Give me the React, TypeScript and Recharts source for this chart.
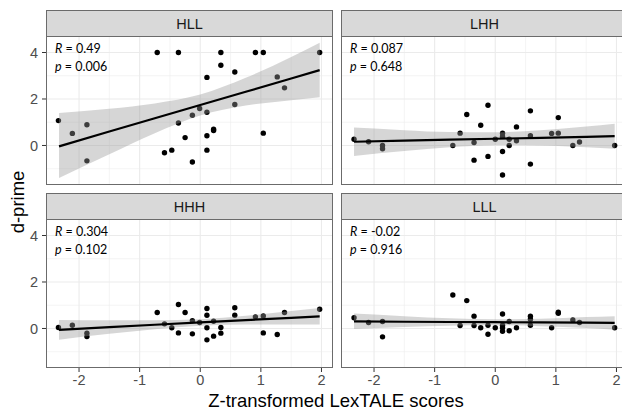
import { Area, CartesianGrid, ComposedChart, Line, Scatter, XAxis, YAxis } from 'recharts'

// x positions where the fit line and its confidence band were read
const BAND_X = [-2.33, -1.5, -0.75, 0, 0.75, 1.5, 1.97]

const HLL_X = [-0.71, -0.36, 0.34, 0.91, 1.04, 1.97, 0.34, 0.57, 0.11, 1.27, 1.39, 0.57, -0.01, 0.11, -0.13, -0.36, -2.34, -2.11, -1.87, -1.87, -0.25, 0.11, 0.22, 0.22, 1.04, -0.59, -0.47, 0.11, -0.13]
const HLL_Y = [4.0, 4.0, 4.0, 4.0, 4.0, 4.0, 3.45, 3.16, 2.93, 2.95, 2.48, 1.76, 1.59, 1.43, 1.3, 0.97, 1.07, 0.52, 0.89, -0.66, 0.34, 0.42, 0.64, 0.7, 0.53, -0.31, -0.2, -0.2, -0.71]
const HLL_FIT = [-0.04, 0.6, 1.17, 1.74, 2.31, 2.88, 3.24]
const HLL_LO = [-1.4, -0.38, 0.53, 1.29, 1.72, 1.95, 2.08]
const HLL_HI = [1.4, 1.58, 1.81, 2.19, 2.91, 3.81, 4.42]

const LHH_X = [-2.33, -2.09, -1.86, -1.86, -0.7, -0.58, -0.47, -0.35, -0.35, -0.24, -0.12, -0.12, 0.0, 0.12, 0.12, 0.12, 0.12, 0.23, 0.23, 0.35, 0.35, 0.58, 0.58, 0.58, 0.93, 1.04, 1.04, 1.28, 1.39, 1.97]
const LHH_Y = [0.27, 0.16, 0.0, -0.14, 0.0, 0.53, 1.33, 0.13, -0.63, 0.87, 1.73, -0.47, 0.27, 0.53, 0.39, -0.26, -1.27, 0.27, 0.0, 0.8, 0.2, 1.49, 0.42, -0.8, 0.52, 1.2, 0.53, 0.0, 0.15, 0.0]
const LHH_FIT = [0.16, 0.21, 0.25, 0.29, 0.33, 0.37, 0.4]
const LHH_LO = [-0.45, -0.24, -0.08, 0.01, 0.0, -0.08, -0.14]
const LHH_HI = [0.77, 0.66, 0.58, 0.57, 0.66, 0.82, 0.94]

const HHH_X = [-2.34, -2.11, -1.87, -1.87, -0.71, -0.59, -0.47, -0.36, -0.36, -0.25, -0.13, -0.13, -0.01, 0.11, 0.11, 0.11, 0.11, 0.22, 0.22, 0.34, 0.34, 0.57, 0.57, 0.91, 1.04, 1.04, 1.27, 1.39, 1.97]
const HHH_Y = [0.04, 0.14, -0.2, -0.35, 0.69, 0.2, 0.03, 1.03, -0.19, 0.69, 0.34, -0.23, 0.26, 0.86, 0.57, 0.03, -0.49, 0.31, -0.33, 0.04, -0.2, 0.89, 0.57, 0.5, 0.54, -0.19, -0.26, 0.69, 0.83]
const HHH_FIT = [-0.06, 0.06, 0.16, 0.26, 0.36, 0.46, 0.52]
const HHH_LO = [-0.48, -0.23, -0.03, 0.12, 0.17, 0.17, 0.17]
const HHH_HI = [0.36, 0.35, 0.35, 0.4, 0.55, 0.75, 0.88]

const LLL_X = [-2.33, -2.09, -1.86, -1.86, -0.7, -0.58, -0.47, -0.35, -0.35, -0.24, -0.12, -0.12, 0.0, 0.12, 0.12, 0.12, 0.12, 0.23, 0.23, 0.35, 0.58, 0.58, 0.58, 0.93, 1.04, 1.04, 1.28, 1.39, 1.97]
const LLL_Y = [0.46, 0.26, 0.3, -0.36, 1.44, 0.13, 1.2, 0.53, 0.13, 0.03, 0.14, -0.25, 0.03, 0.62, 0.14, 0.03, -0.12, 0.3, -0.1, 0.03, 0.53, 0.4, 0.14, 0.03, 0.7, 0.65, 0.37, 0.26, 0.03]
const LLL_FIT = [0.31, 0.29, 0.28, 0.27, 0.26, 0.25, 0.24]
const LLL_LO = [-0.02, 0.06, 0.12, 0.14, 0.1, 0.02, -0.05]
const LLL_HI = [0.64, 0.53, 0.44, 0.4, 0.42, 0.49, 0.53]

const X_TICKS = [-2, -1, 0, 1, 2]
const X_MINOR = [-1.5, -0.5, 0.5, 1.5]
const Y_TICKS = [0, 2, 4]
const Y_MINOR = [-1, 1, 3]

const X_DOMAIN: [number, number] = [-2.545, 2.19]
const Y_DOMAIN: [number, number] = [-1.7, 4.71]

const PANEL_W = 287
const PANEL_H = 149
const STRIP_H = 26
const AXIS_W = 46
const GAP = 8
const X_AXIS_H = 32

const SANS = '"Liberation Sans", Arial, sans-serif'
const BORDER = '#6b6b6b'

type PanelDef = {
  title: string
  r: string
  p: string
  xs: number[]
  ys: number[]
  fit: number[]
  lo: number[]
  hi: number[]
}

const PANELS: PanelDef[] = [
  { title: 'HLL', r: '0.49', p: '0.006', xs: HLL_X, ys: HLL_Y, fit: HLL_FIT, lo: HLL_LO, hi: HLL_HI },
  { title: 'LHH', r: '0.087', p: '0.648', xs: LHH_X, ys: LHH_Y, fit: LHH_FIT, lo: LHH_LO, hi: LHH_HI },
  { title: 'HHH', r: '0.304', p: '0.102', xs: HHH_X, ys: HHH_Y, fit: HHH_FIT, lo: HHH_LO, hi: HHH_HI },
  { title: 'LLL', r: '-0.02', p: '0.916', xs: LLL_X, ys: LLL_Y, fit: LLL_FIT, lo: LLL_LO, hi: LLL_HI }
]

const dot = (props: any) => <circle cx={props.cx} cy={props.cy} r={2.7} fill="#000" />

function Panel({ def, col, row }: { def: PanelDef; col: number; row: number }) {
  const plotLeft = AXIS_W + col * (PANEL_W + GAP)
  const stripTop = 10 + row * (STRIP_H + PANEL_H + GAP)
  const plotTop = stripTop + STRIP_H
  const showY = col === 0
  const showX = row === 1

  const points = def.xs.map((x, i) => ({ x, y: def.ys[i] }))
  const band = BAND_X.map((x, i) => ({ x, fit: def.fit[i], band: [def.lo[i], def.hi[i]] }))

  const tickStyle = { fill: '#4d4d4d', fontSize: 14.5, fontFamily: SANS }

  return (
    <>
      <div
        style={{
          position: 'absolute',
          left: plotLeft,
          top: stripTop,
          width: PANEL_W,
          height: STRIP_H,
          boxSizing: 'border-box',
          background: '#d9d9d9',
          border: `1px solid ${BORDER}`,
          borderBottom: 'none',
          textAlign: 'center',
          lineHeight: `${STRIP_H}px`,
          fontFamily: SANS,
          fontSize: 14.5,
          color: '#1a1a1a'
        }}
      >
        {def.title}
      </div>
      <div style={{ position: 'absolute', left: showY ? 0 : plotLeft, top: plotTop }}>
        <ComposedChart
          width={PANEL_W + (showY ? AXIS_W : 0)}
          height={PANEL_H + (showX ? X_AXIS_H : 0)}
          data={band}
          margin={{ top: 0, right: 0, bottom: 0, left: 0 }}
        >
          <CartesianGrid
            verticalValues={X_MINOR}
            horizontalValues={Y_MINOR}
            stroke="#ededed"
            strokeWidth={0.6}
          />
          <CartesianGrid
            verticalValues={X_TICKS}
            horizontalValues={Y_TICKS}
            stroke="#ebebeb"
            strokeWidth={1.1}
          />
          <XAxis
            dataKey="x"
            type="number"
            domain={X_DOMAIN}
            ticks={X_TICKS}
            allowDataOverflow
            hide={!showX}
            height={X_AXIS_H}
            axisLine={false}
            tickLine={{ stroke: '#333' }}
            tickSize={4}
            tickMargin={3}
            tick={tickStyle}
            interval={0}
          />
          <YAxis
            type="number"
            domain={Y_DOMAIN}
            ticks={Y_TICKS}
            allowDataOverflow
            hide={!showY}
            width={AXIS_W}
            axisLine={false}
            tickLine={{ stroke: '#333' }}
            tickSize={4}
            tickMargin={4}
            tick={tickStyle}
            interval={0}
          />
          <Scatter data={points} dataKey="y" shape={dot} isAnimationActive={false} zIndex={100} />
          <Area
            dataKey="band"
            type="monotone"
            stroke="none"
            fill="#999999"
            fillOpacity={0.4}
            isAnimationActive={false}
            activeDot={false}
            zIndex={700}
          />
          <Line
            dataKey="fit"
            type="linear"
            stroke="#000"
            strokeWidth={2.2}
            dot={false}
            activeDot={false}
            isAnimationActive={false}
            zIndex={800}
          />
        </ComposedChart>
      </div>
      <div
        style={{
          position: 'absolute',
          left: plotLeft,
          top: plotTop,
          width: PANEL_W,
          height: PANEL_H,
          boxSizing: 'border-box',
          border: `1px solid ${BORDER}`,
          pointerEvents: 'none'
        }}
      />
      <div
        style={{
          position: 'absolute',
          left: plotLeft + 9,
          top: plotTop + 4.4,
          fontFamily: 'Lato, sans-serif',
          fontSize: 12.5,
          lineHeight: '18px',
          color: '#000',
          whiteSpace: 'nowrap'
        }}
      >
        <div>
          <i>R</i> = {def.r}
        </div>
        <div>
          <i>p</i> = {def.p}
        </div>
      </div>
    </>
  )
}

export default function App() {
  return (
    <div
      style={{
        position: 'absolute',
        left: 0,
        top: 0,
        width: 622,
        height: 412,
        overflow: 'hidden',
        background: '#fff'
      }}
    >
      {PANELS.map((def, i) => (
        <Panel key={def.title} def={def} col={i % 2} row={Math.floor(i / 2)} />
      ))}
      <div
        style={{
          position: 'absolute',
          left: 18,
          top: 202,
          transform: 'translate(-50%, -50%) rotate(-90deg)',
          fontFamily: SANS,
          fontSize: 18.5,
          color: '#000',
          whiteSpace: 'nowrap'
        }}
      >
        d-prime
      </div>
      <div
        style={{
          position: 'absolute',
          left: 336,
          top: 401,
          transform: 'translate(-50%, -50%)',
          fontFamily: SANS,
          fontSize: 18.5,
          color: '#000',
          whiteSpace: 'nowrap'
        }}
      >
        Z-transformed LexTALE scores
      </div>
    </div>
  )
}
